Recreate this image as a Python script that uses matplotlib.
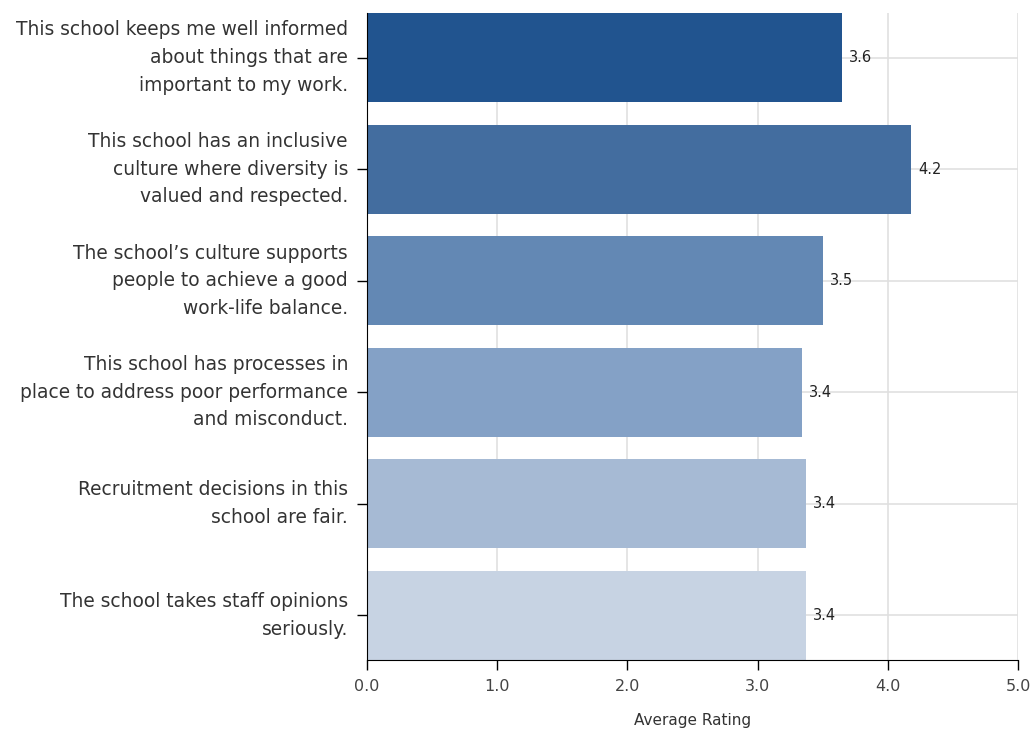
import matplotlib
matplotlib.use("Agg")
import matplotlib.pyplot as plt
from matplotlib.transforms import ScaledTranslation

categories = [
    "This school keeps me well informed\nabout things that are\nimportant to my work.",
    "This school has an inclusive\nculture where diversity is\nvalued and respected.",
    "The school\u2019s culture supports\npeople to achieve a good\nwork-life balance.",
    "This school has processes in\nplace to address poor performance\nand misconduct.",
    "Recruitment decisions in this\nschool are fair.",
    "The school takes staff opinions\nseriously.",
]
values = [3.65, 4.18, 3.50, 3.34, 3.37, 3.37]
value_labels = ["3.6", "4.2", "3.5", "3.4", "3.4", "3.4"]
colors = ["#21548f", "#436d9f", "#6388b4", "#84a1c6", "#a6bad4", "#c7d3e3"]
xticks = [0, 1, 2, 3, 4, 5]
xtick_labels = ["0.0", "1.0", "2.0", "3.0", "4.0", "5.0"]

plt.rcParams['font.family'] = ['DejaVu Sans']

fig = plt.figure(figsize=(10.35, 7.31), dpi=100)
ax = fig.add_axes([367/1035, 1-660/731, 651/1035, 647/731])

ypos = list(range(len(categories)))
ax.barh(ypos, values, height=0.8, color=colors, zorder=2)
ax.set_ylim(len(categories) - 1 + 0.4, -0.4)
ax.set_xlim(0, 5)

ax.set_xticks(xticks)
ax.set_xticklabels(xtick_labels, fontsize=11.5, color="#444444")
ax.set_yticks(ypos)
ax.tick_params(axis="y", labelleft=False)

label_tr = ax.get_yaxis_transform() + ScaledTranslation(-19/100, 0, fig.dpi_scale_trans)
for y, cat in zip(ypos, categories):
    ax.text(0, y, cat, transform=label_tr, ha="right", va="center",
            fontsize=13.4, color="#333333", linespacing=1.58, multialignment="right")

for y, v, lab in zip(ypos, values, value_labels):
    ax.text(v + 0.054, y, lab, va="center", ha="left", fontsize=10.5, color="#222222", zorder=3)

ax.grid(True, color="#e0e0e0", linewidth=1.2, zorder=0)
ax.set_axisbelow(True)
for s in ["top", "right"]:
    ax.spines[s].set_visible(False)
ax.spines["left"].set_color("black")
ax.spines["bottom"].set_color("black")
ax.tick_params(axis="both", length=7, width=1, color="black")
ax.tick_params(axis="x", pad=7)

ax.set_xlabel("Average Rating", fontsize=11, color="#333333", labelpad=13)

fig.savefig("out.png", dpi=100)
